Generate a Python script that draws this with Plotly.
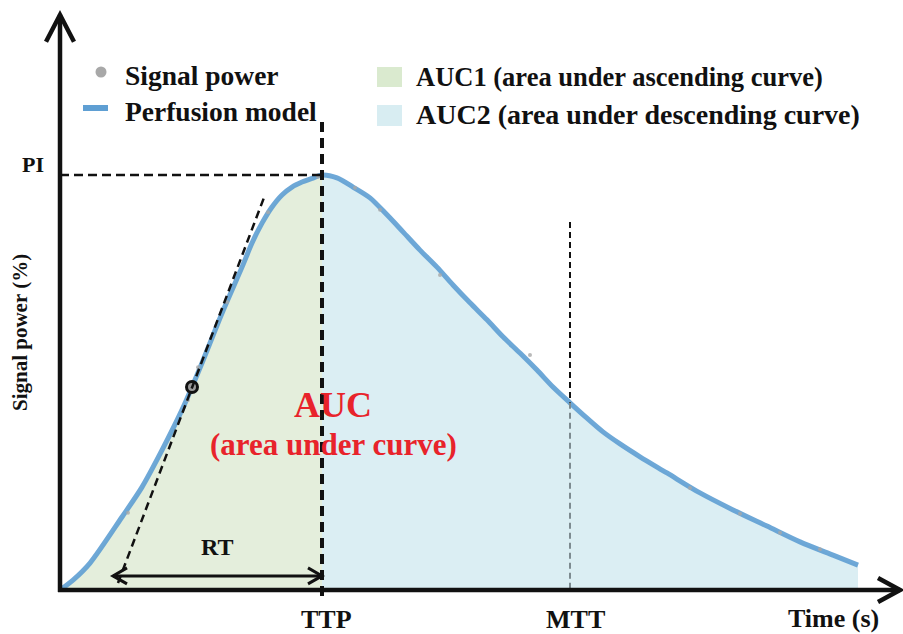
import plotly.graph_objects as go

# ---------------- data (time in s, signal power in % of PI) ----------------
curve_t = [0.0, 0.65, 1.5, 3.1, 4.1, 5.1, 6.1, 6.6, 7.1, 8.1, 9.1, 9.6, 10.1, 10.6, 11.1, 11.6, 12.1, 12.6, 13.1,
           13.85, 14.65, 15.5, 16.35, 17.15, 18.0, 18.85, 19.65, 20.5, 21.35, 22.15, 23.0, 23.85,
           24.65, 25.5, 26.35, 27.15, 28.0, 29.0, 30.35, 32.0, 33.65, 35.35, 37.0, 38.65, 39.9]
curve_s = [0.0, 2.4, 6.5, 17.6, 24.8, 33.7, 43.4, 48.9, 54.7, 66.7, 77.8, 83.6, 88.4, 92.3, 95.2, 97.1, 98.3, 99.2, 100.0,
           99.3, 97.1, 94.5, 90.4, 86.3, 81.9, 77.8, 73.5, 69.2, 65.1, 61.0, 57.1, 53.0,
           48.9, 45.1, 41.4, 38.1, 35.2, 32.1, 28.2, 23.4, 19.3, 15.4, 11.6, 8.4, 6.0]

signal_t = [3.4, 6.4, 6.9, 8.35, 10.4, 12.9, 14.75, 16.0, 19.0, 23.5, 31.5, 34.0, 36.0, 38.0]
signal_s = [18.6, 45.8, 53.7, 69.4, 91.0, 99.6, 96.9, 91.6, 75.9, 56.6, 24.6, 18.4, 13.8, 9.8]

TTP = 13.1
MTT = 25.5
PI = 100.0
MTT_TOP = 88.7
TTP_TOP = 112.8
RT_START = 2.65
RT_LEVEL = 3.4
tangent_t = [2.9, 10.25]
tangent_s = [1.7, 95.2]
tangent_point = (6.6, 48.9)
X_END = 42.0
Y_END = 138.6

# ---------------- figure geometry ----------------
W, H = 903, 634
X0, X1 = -3.0, 42.15
Y0, Y1 = -10.60, 142.17
PXX = W / (X1 - X0)     # pixels per second
PXY = H / (Y1 - Y0)     # pixels per %

FONT = "Liberation Serif, Times New Roman, serif"
BLACK = "#111111"
RED = "#e8232b"
GREEN = "#e4eedc"
BLUE = "#dbeef3"
LINE_BLUE = "#5f9fd3"
GRAY = "#a8a8a8"


def px(x):
    return x / W


def py(y):
    return 1 - y / H


fig = go.Figure()

i_ttp = curve_t.index(TTP)
# AUC1 fill
fig.add_trace(go.Scatter(x=curve_t[:i_ttp + 1], y=curve_s[:i_ttp + 1], mode="lines",
                         line=dict(width=0, shape="spline", smoothing=0.8, color=GREEN), fill="tozeroy",
                         fillcolor=GREEN, hoverinfo="skip"))
# AUC2 fill
fig.add_trace(go.Scatter(x=curve_t[i_ttp:], y=curve_s[i_ttp:], mode="lines",
                         line=dict(width=0, shape="spline", smoothing=0.8, color=BLUE), fill="tozeroy",
                         fillcolor=BLUE, hoverinfo="skip"))

shapes = []


def seg(x0, y0, x1, y1, color=BLACK, width=2.5, dash=None):
    d = dict(type="line", xref="x", yref="y", x0=x0, y0=y0, x1=x1, y1=y1,
             line=dict(color=color, width=width), layer="above")
    if dash:
        d["line"]["dash"] = dash
    shapes.append(d)


def chevron(tx, ty, direction, length_px, half_px, width):
    dx, dy = direction
    bx, by = -dx * length_px, -dy * length_px
    nx, ny = -dy * half_px, dx * half_px
    p1 = (tx + (bx + nx) / PXX, ty + (by + ny) / PXY)
    p2 = (tx + (bx - nx) / PXX, ty + (by - ny) / PXY)
    path = f"M {p1[0]},{p1[1]} L {tx},{ty} L {p2[0]},{p2[1]}"
    shapes.append(dict(type="path", xref="x", yref="y", path=path,
                       line=dict(color=BLACK, width=width), layer="above"))


# MTT dashed line (black above curve, grey within the area)
mtt_s = curve_s[curve_t.index(MTT)]
seg(MTT, MTT_TOP, MTT, mtt_s, color=BLACK, width=2, dash="6px,4px")
seg(MTT, mtt_s, MTT, 0, color="#7d8b90", width=2, dash="6px,4px")

fig.add_trace(go.Scatter(x=curve_t, y=curve_s, mode="lines",
                         line=dict(color=LINE_BLUE, width=5, shape="spline", smoothing=0.8),
                         opacity=0.9, hoverinfo="skip"))
fig.add_trace(go.Scatter(x=signal_t, y=signal_s, mode="markers",
                         marker=dict(color=GRAY, size=4, opacity=0.8), hoverinfo="skip"))

# tangent
seg(tangent_t[0], tangent_s[0], tangent_t[1], tangent_s[1], width=2.5, dash="8px,5px")
fig.add_trace(go.Scatter(x=[tangent_point[0]], y=[tangent_point[1]], mode="markers",
                         marker=dict(color="#9a9a9a", size=11, line=dict(color=BLACK, width=3)),
                         hoverinfo="skip"))

# PI line and TTP line
seg(0, PI, TTP, PI, width=2.5, dash="9px,5px")
seg(TTP, TTP_TOP, TTP, -8 / PXY, width=4, dash="10px,6px")

# RT double arrow
seg(RT_START, RT_LEVEL, TTP, RT_LEVEL, width=3)
chevron(RT_START, RT_LEVEL, (-1, 0), 14, 8, 3)
chevron(TTP, RT_LEVEL, (1, 0), 14, 8, 3)

# axes
seg(0, -2 / PXY, 0, Y_END, width=4.5)
seg(-2 / PXX, 0, X_END, 0, width=4.5)
chevron(0, Y_END, (0, 1), 27, 14, 4.5)
chevron(X_END, 0, (1, 0), 22, 12, 4.5)

# legend symbols
shapes.append(dict(type="rect", xref="paper", yref="paper", x0=px(377), x1=px(402),
                   y0=py(87), y1=py(67), fillcolor="#daeacf", line=dict(width=0)))
shapes.append(dict(type="rect", xref="paper", yref="paper", x0=px(377), x1=px(402),
                   y0=py(126), y1=py(105), fillcolor="#d8edf2", line=dict(width=0)))
shapes.append(dict(type="line", xref="paper", yref="paper", x0=px(83), x1=px(108),
                   y0=py(108), y1=py(108), line=dict(color=LINE_BLUE, width=6)))
shapes.append(dict(type="circle", xref="paper", yref="paper", x0=px(95.5), x1=px(106.5),
                   y0=py(77.5), y1=py(66.5), fillcolor=GRAY, line=dict(width=0)))

annotations = []


def text(s, x, y, size, color=BLACK, anchor="center", angle=0):
    annotations.append(dict(text=s, xref="paper", yref="paper", x=px(x), y=py(y),
                            xanchor=anchor, yanchor="middle", showarrow=False, textangle=angle,
                            font=dict(family=FONT, size=size, color=color)))


text("<b>Signal power</b>", 123, 75, 27.5, anchor="left")
text("<b>Perfusion model</b>", 123, 111, 27.5, anchor="left")
text("<b>AUC1 (area under ascending curve)</b>", 414, 77, 26.5, anchor="left")
text("<b>AUC2 (area under descending curve)</b>", 414, 115, 28, anchor="left")
text("<b>PI</b>", 33, 165, 22)
text("<b>Signal power (%)</b>", 20, 333, 21, angle=-90)
text("<b>RT</b>", 217, 547, 24)
text("<b>TTP</b>", 326, 619, 26)
text("<b>MTT</b>", 575, 619, 26)
text("<b>Time (s)</b>", 833, 618, 26)
text("<b>AUC</b>", 333, 405, 36, color=RED)
text("<b>(area under curve)</b>", 333, 444, 31, color=RED)

fig.update_layout(
    width=W, height=H, margin=dict(l=0, r=0, t=0, b=0),
    paper_bgcolor="white", plot_bgcolor="white", showlegend=False,
    xaxis=dict(range=[X0, X1], visible=False, fixedrange=True),
    yaxis=dict(range=[Y0, Y1], visible=False, fixedrange=True),
    shapes=shapes, annotations=annotations,
)

fig.write_html("out.html", config={"displayModeBar": False},
               post_script="document.body.style.margin='0px';document.body.style.overflow='hidden';")
